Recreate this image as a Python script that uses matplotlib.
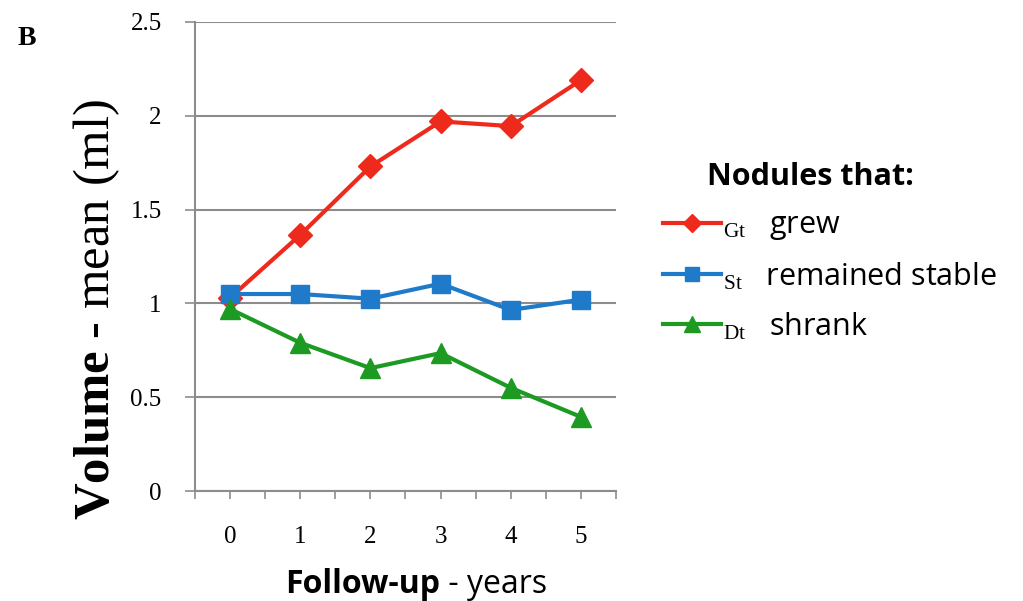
import matplotlib
matplotlib.use("Agg")
import matplotlib.pyplot as plt

# dati
anni = [0, 1, 2, 3, 4, 5]
cresciuti = [1.03, 1.365, 1.73, 1.97, 1.945, 2.19]
stabili = [1.05, 1.05, 1.025, 1.105, 0.965, 1.02]
ridotti = [0.97, 0.79, 0.655, 0.735, 0.55, 0.395]
y_ticks = [0, 0.5, 1, 1.5, 2, 2.5]
y_tick_labels = ["0", "0.5", "1", "1.5", "2", "2.5"]
sigle = ["Gt", "St", "Dt"]
etichette = ["grew", "remained stable", "shrank"]

plt.rcParams["mathtext.fontset"] = "custom"
plt.rcParams["mathtext.rm"] = "Liberation Serif"
plt.rcParams["mathtext.bf"] = "Liberation Serif:bold"
plt.rcParams["mathtext.it"] = "Liberation Serif:italic"

rosso, blu, verde = "#ee2a1c", "#1f7ac9", "#1c9a22"
grigio = "#8c8c8c"
sans = "Open Sans"

fig = plt.figure(figsize=(10.23, 6.01), dpi=100)
ax = fig.add_axes([195 / 1023, 1 - 491 / 601, 421 / 1023, 469 / 601])

l1, = ax.plot(anni, cresciuti, color=rosso, lw=3, marker="D", ms=12, zorder=3)
l2, = ax.plot(anni, stabili, color=blu, lw=3, marker="s", ms=12.5, zorder=4)
l3, = ax.plot(anni, ridotti, color=verde, lw=3, marker="^", ms=14, zorder=5)

ax.set_xlim(-0.5, 5.5)
ax.set_ylim(0, 2.5)
ax.set_yticks(y_ticks)
ax.set_yticklabels(y_tick_labels, family="Liberation Serif", fontsize=18)
ax.set_xticks(anni)
ax.set_xticklabels([str(a) for a in anni], family="Liberation Serif", fontsize=18)
ax.set_xticks([a + 0.5 for a in [-1] + anni], minor=True)
ax.tick_params(axis="y", length=7, width=1.2, color=grigio, pad=17)
ax.tick_params(axis="x", which="both", length=6, width=1.2, color=grigio, pad=19)

ax.grid(axis="y", color=grigio, lw=1.5)
ax.set_axisbelow(True)
for s in ["top", "right"]:
    ax.spines[s].set_visible(False)
for s in ["left", "bottom"]:
    ax.spines[s].set_color(grigio)
    ax.spines[s].set_linewidth(1.5)

# etichetta asse y: "Volume" in grassetto
fig.text(97 / 1023, 1 - 309 / 601, r"$\mathbf{Volume}$ - mean (ml)",
         family="Liberation Serif", rotation=90, ha="center", va="center",
         fontsize=36.5)

# etichetta asse x: "Follow-up" grassetto + " - years"
t1 = fig.text(440 / 1023, 1 - 593 / 601, "Follow-up", family=sans,
              fontweight="bold", fontsize=23, ha="right", va="baseline")
ax.annotate(" - years", xy=(1, 0), xycoords=t1, va="bottom", ha="left",
            family=sans, fontsize=23)

fig.text(18 / 1023, 1 - 45 / 601, "B", family="Liberation Serif",
         fontweight="bold", fontsize=20)

labels = [r"$_{\mathrm{%s}}$   %s" % (s, e) for s, e in zip(sigle, etichette)]
leg = fig.legend([l1, l2, l3], labels, loc="upper left",
                 bbox_to_anchor=(663 / 1023, 1 - 162 / 601), frameon=False,
                 prop={"family": sans, "size": 22}, title="Nodules that:     ",
                 title_fontproperties={"family": sans, "weight": "bold", "size": 22},
                 handlelength=1.9, handletextpad=0.05, labelspacing=0.6,
                 borderpad=0, borderaxespad=0, numpoints=1, markerscale=0.8)

fig.savefig("out.png", dpi=100)
